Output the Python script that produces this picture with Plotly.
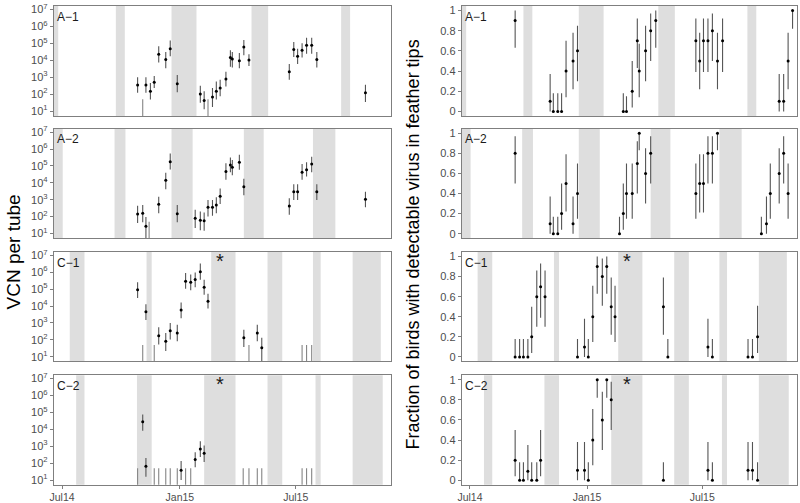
import plotly.graph_objects as go

X_RANGE = ["2014-06-18", "2015-11-27"]
X_TICKS = ["2014-07-01", "2015-01-01", "2015-07-01"]
X_TICK_LABELS = ["Jul14", "Jan15", "Jul15"]
Y_LOG_TICKS = [10, 100, 1e3, 1e4, 1e5, 1e6, 1e7]
Y_LOG_LABELS = ["10<sup>1</sup>", "10<sup>2</sup>", "10<sup>3</sup>", "10<sup>4</sup>", "10<sup>5</sup>",
                "10<sup>6</sup>", "10<sup>7</sup>"]
Y_FRAC_TICKS = [0, 0.2, 0.4, 0.6, 0.8, 1]
Y_FRAC_LABELS = ["0", "0.2", "0.4", "0.6", "0.8", "1"]
GROUPS = ["A−1", "A−2", "C−1", "C−2"]

# shaded periods per group
shade_A1 = [("2014-06-10", "2014-06-25"), ("2014-09-23", "2014-10-07"), ("2014-12-19", "2015-01-27"),
            ("2015-04-23", "2015-05-19"), ("2015-09-10", "2015-09-24")]
shade_A2 = [("2014-06-10", "2014-07-02"), ("2014-09-21", "2014-10-08"), ("2014-12-19", "2015-01-21"),
            ("2015-04-11", "2015-05-12"), ("2015-07-28", "2015-09-01")]
shade_C1 = [("2014-07-13", "2014-08-05"), ("2014-11-10", "2014-11-18"), ("2015-02-19", "2015-03-29"),
            ("2015-05-18", "2015-06-10"), ("2015-07-28", "2015-08-09"), ("2015-09-28", "2015-11-11")]
shade_C2 = [("2014-07-23", "2014-08-05"), ("2014-10-26", "2014-11-18"), ("2015-02-08", "2015-03-29"),
            ("2015-05-18", "2015-06-10"), ("2015-08-01", "2015-08-09"), ("2015-09-28", "2015-11-14")]

# ---- VCN per tube (log10 values) ----
vcn_A1_date = ["2014-10-27", "2014-11-09", "2014-11-16", "2014-11-22", "2014-11-29", "2014-12-10", "2014-12-17",
               "2014-12-28", "2015-02-02", "2015-02-08", "2015-02-21", "2015-02-27", "2015-03-05", "2015-03-14",
               "2015-03-21", "2015-03-24", "2015-04-04", "2015-04-11", "2015-04-19", "2015-06-21", "2015-06-28",
               "2015-07-04", "2015-07-11", "2015-07-18", "2015-07-26", "2015-08-03", "2015-10-18"]
vcn_A1_log = [2.54, 2.54, 2.17, 2.70, 4.36, 4.05, 4.68, 2.62, 2.02, 1.63, 1.83, 2.17, 2.37, 2.89, 4.16, 4.07,
              3.97, 4.78, 4.01, 3.33, 4.63, 4.24, 4.59, 4.88, 4.88, 4.05, 2.08]
vcn_A1_lo = [2.08, 2.08, 1.69, 2.37, 3.87, 3.53, 4.24, 2.12, 1.50, 1.11, 1.25, 1.69, 1.88, 2.46, 3.62, 3.58,
             3.53, 4.30, 3.66, 2.85, 4.20, 3.78, 4.16, 4.39, 4.39, 3.58, 1.54]
vcn_A1_hi = [3.00, 3.00, 2.66, 3.08, 4.82, 4.49, 5.17, 3.14, 2.50, 2.17, 2.37, 2.75, 2.85, 3.33, 4.59, 4.49,
             4.43, 5.20, 4.36, 3.78, 5.07, 4.68, 5.01, 5.32, 5.32, 4.49, 2.56]
vcn_A1_nd = ["2014-11-04", "2015-02-14"]

vcn_A2_date = ["2014-10-27", "2014-11-04", "2014-11-09", "2014-11-29", "2014-12-10", "2014-12-17", "2014-12-28",
               "2015-01-25", "2015-02-02", "2015-02-08", "2015-02-14", "2015-02-21", "2015-02-27", "2015-03-05",
               "2015-03-14", "2015-03-21", "2015-03-24", "2015-04-04", "2015-04-11", "2015-06-21", "2015-06-28",
               "2015-07-04", "2015-07-11", "2015-07-18", "2015-07-26", "2015-08-03", "2015-10-18"]
vcn_A2_log = [2.15, 2.20, 1.43, 2.73, 4.15, 5.25, 2.17, 1.91, 1.78, 1.76, 2.55, 2.55, 2.69, 3.21, 4.67, 5.06,
              4.92, 5.21, 3.76, 2.63, 3.47, 3.47, 4.63, 4.77, 5.12, 3.47, 3.02]
vcn_A2_lo = [1.62, 1.66, 0.70, 2.20, 3.62, 4.79, 1.66, 1.33, 1.19, 1.17, 2.01, 2.05, 2.20, 2.75, 4.18, 4.63,
             4.44, 4.77, 3.27, 2.11, 2.98, 2.98, 4.18, 4.38, 4.63, 2.98, 2.55]
vcn_A2_hi = [2.64, 2.69, 1.97, 3.17, 4.59, 5.74, 2.69, 2.40, 2.30, 2.24, 2.98, 2.98, 3.14, 3.66, 5.16, 5.50,
             5.35, 5.66, 4.24, 3.08, 3.91, 3.91, 5.12, 5.21, 5.54, 3.91, 3.47]
vcn_A2_nd = ["2014-11-14"]

vcn_C1_date = ["2014-10-27", "2014-11-09", "2014-11-29", "2014-12-10", "2014-12-17", "2014-12-28", "2015-01-03",
               "2015-01-10", "2015-01-18", "2015-01-25", "2015-02-02", "2015-02-08", "2015-02-14", "2015-04-11",
               "2015-05-02", "2015-05-09"]
vcn_C1_log = [4.97, 3.67, 2.25, 1.92, 2.54, 2.41, 3.76, 5.47, 5.41, 5.57, 6.03, 5.12, 4.29, 2.12, 2.41, 1.53]
vcn_C1_lo = [4.48, 3.18, 1.73, 1.34, 2.02, 1.92, 3.28, 5.02, 4.93, 5.12, 5.55, 4.67, 3.86, 1.57, 1.92, 0.70]
vcn_C1_hi = [5.41, 4.11, 2.74, 2.41, 2.99, 2.89, 4.21, 5.95, 5.86, 5.99, 6.52, 5.55, 4.73, 2.60, 2.89, 2.12]
vcn_C1_nd = ["2014-11-04", "2014-11-22", "2015-04-19", "2015-07-11", "2015-07-18", "2015-07-26"]

vcn_C2_date = ["2014-11-04", "2014-11-09", "2015-01-03", "2015-01-25", "2015-02-02", "2015-02-08"]
vcn_C2_log = [4.45, 1.82, 1.58, 2.22, 2.84, 2.59]
vcn_C2_lo = [3.92, 1.20, 1.00, 1.75, 2.36, 2.07]
vcn_C2_hi = [4.88, 2.30, 2.13, 2.65, 3.29, 3.04]
vcn_C2_nd = ["2014-10-27", "2014-11-22", "2014-11-29", "2014-12-10", "2014-12-17", "2014-12-28", "2015-01-10",
             "2015-01-18", "2015-04-10", "2015-04-19", "2015-05-02", "2015-05-09", "2015-07-11", "2015-07-18",
             "2015-07-26"]
ND_TOP = 50  # non-detect marker height (VCN)

# ---- Fraction of birds with detectable virus ----
frac_A1_date = ["2014-09-10", "2014-11-04", "2014-11-09", "2014-11-16", "2014-11-22", "2014-11-29", "2014-12-10",
                "2014-12-17", "2015-02-27", "2015-03-04", "2015-03-13", "2015-03-21", "2015-03-24", "2015-04-03",
                "2015-04-11", "2015-04-19", "2015-06-21", "2015-06-27", "2015-07-03", "2015-07-10", "2015-07-17",
                "2015-07-25", "2015-08-02", "2015-10-30", "2015-11-06", "2015-11-13", "2015-11-20"]
frac_A1 = [0.9, 0.1, 0, 0, 0, 0.4, 0.5, 0.6, 0, 0, 0.2, 0.7, 0.4, 0.6, 0.8, 0.9, 0.7, 0.5, 0.7, 0.7, 0.8,
           0.5, 0.7, 0.1, 0.1, 0.5, 1.0]
frac_A1_lo = [0.63, 0, 0, 0, 0, 0.14, 0.22, 0.30, 0, 0, 0.04, 0.43, 0.14, 0.30, 0.50, 0.63, 0.39, 0.22, 0.39,
              0.39, 0.50, 0.22, 0.39, 0, 0, 0.22, 0.82]
frac_A1_hi = [1.0, 0.37, 0.18, 0.18, 0.18, 0.70, 0.78, 0.85, 0.18, 0.15, 0.50, 0.92, 0.67, 0.85, 0.97, 1.0,
              0.92, 0.78, 0.92, 0.92, 0.97, 0.78, 0.92, 0.37, 0.37, 0.78, 1.0]

frac_A2_date = ["2014-09-10", "2014-11-04", "2014-11-09", "2014-11-16", "2014-11-22", "2014-11-29", "2014-12-10",
                "2014-12-17", "2015-02-21", "2015-02-27", "2015-03-04", "2015-03-13", "2015-03-21", "2015-03-24",
                "2015-04-03", "2015-04-11", "2015-06-21", "2015-06-27", "2015-07-03", "2015-07-10", "2015-07-17",
                "2015-07-25", "2015-10-02", "2015-10-10", "2015-10-16", "2015-10-30", "2015-11-06", "2015-11-13"]
frac_A2 = [0.8, 0.1, 0, 0, 0.2, 0.5, 0.1, 0.4, 0, 0.2, 0.4, 0.4, 0.7, 1.0, 0.6, 0.8, 0.4, 0.5, 0.5, 0.8, 0.8,
           1.0, 0, 0.1, 0.4, 0.6, 0.8, 0.4]
frac_A2_lo = [0.50, 0, 0, 0, 0.04, 0.22, 0, 0.15, 0, 0.04, 0.15, 0.15, 0.40, 0.83, 0.30, 0.50, 0.15, 0.21, 0.21,
              0.50, 0.50, 0.83, 0, 0, 0.15, 0.30, 0.50, 0.15]
frac_A2_hi = [0.97, 0.37, 0.17, 0.17, 0.50, 0.79, 0.37, 0.70, 0.17, 0.50, 0.70, 0.70, 0.92, 1.0, 0.85, 0.97,
              0.70, 0.79, 0.79, 0.97, 0.97, 1.0, 0.17, 0.37, 0.70, 0.85, 0.97, 0.70]

frac_C1_date = ["2014-09-10", "2014-09-17", "2014-09-23", "2014-09-30", "2014-10-06", "2014-10-14", "2014-10-20",
                "2014-10-27", "2014-12-17", "2014-12-28", "2015-01-03", "2015-01-10", "2015-01-17", "2015-01-25",
                "2015-02-01", "2015-02-08", "2015-02-14", "2015-05-01", "2015-05-08", "2015-07-10", "2015-07-17",
                "2015-09-11", "2015-09-18", "2015-09-26"]
frac_C1 = [0, 0, 0, 0, 0.2, 0.6, 0.7, 0.6, 0, 0.1, 0, 0.4, 0.9, 0.8, 0.9, 0.5, 0.4, 0.5, 0, 0.1, 0, 0, 0, 0.2]
frac_C1_lo = [0, 0, 0, 0, 0.04, 0.30, 0.39, 0.30, 0, 0, 0, 0.15, 0.63, 0.51, 0.63, 0.22, 0.15, 0.22, 0, 0, 0,
              0, 0, 0.04]
frac_C1_hi = [0.18, 0.18, 0.18, 0.18, 0.50, 0.86, 0.93, 0.86, 0.18, 0.38, 0.18, 0.71, 1.0, 0.98, 1.0, 0.79,
              0.71, 0.79, 0.18, 0.38, 0.18, 0.18, 0.18, 0.51]

frac_C2_date = ["2014-09-10", "2014-09-17", "2014-09-23", "2014-09-30", "2014-10-06", "2014-10-14", "2014-10-20",
                "2014-12-17", "2014-12-28", "2015-01-03", "2015-01-10", "2015-01-17", "2015-01-25", "2015-02-01",
                "2015-02-08", "2015-05-01", "2015-07-10", "2015-07-17", "2015-09-11", "2015-09-18", "2015-09-26"]
frac_C2 = [0.2, 0, 0, 0.09, 0, 0, 0.2, 0.1, 0.1, 0, 0.4, 1.0, 0.6, 1.0, 0.8, 0, 0.1, 0, 0.1, 0.1, 0]
frac_C2_lo = [0.04, 0, 0, 0, 0, 0, 0.04, 0, 0, 0, 0.15, 0.82, 0.30, 0.82, 0.50, 0, 0, 0, 0, 0, 0]
frac_C2_hi = [0.50, 0.18, 0.18, 0.35, 0.18, 0.18, 0.50, 0.38, 0.38, 0.18, 0.71, 1.0, 0.88, 1.0, 0.98, 0.18,
              0.38, 0.18, 0.38, 0.38, 0.18]

STAR_DATE = "2015-03-05"

vcn_sets = [
    (vcn_A1_date, vcn_A1_log, vcn_A1_lo, vcn_A1_hi, vcn_A1_nd),
    (vcn_A2_date, vcn_A2_log, vcn_A2_lo, vcn_A2_hi, vcn_A2_nd),
    (vcn_C1_date, vcn_C1_log, vcn_C1_lo, vcn_C1_hi, vcn_C1_nd),
    (vcn_C2_date, vcn_C2_log, vcn_C2_lo, vcn_C2_hi, vcn_C2_nd),
]
frac_sets = [
    (frac_A1_date, frac_A1, frac_A1_lo, frac_A1_hi),
    (frac_A2_date, frac_A2, frac_A2_lo, frac_A2_hi),
    (frac_C1_date, frac_C1, frac_C1_lo, frac_C1_hi),
    (frac_C2_date, frac_C2, frac_C2_lo, frac_C2_hi),
]
shades = [shade_A1, shade_A2, shade_C1, shade_C2]
star_groups = [False, False, True, True]

W, H = 800, 503
col_px = [(50, 389), (460, 797)]
row_px = [(2, 114), (127, 238.5), (252.5, 364), (378, 489.5)]

BAR_COL = "#555555"
ND_COL = "#858585"
BORDER = "#7f7f7f"
FONT = "Liberation Sans, Arial, sans-serif"
TICKFONT = dict(family=FONT, size=11, color="#4d4d4d")

fig = go.Figure()
layout = dict(width=W, height=H, margin=dict(l=0, r=0, t=0, b=0),
              paper_bgcolor="white", plot_bgcolor="white", showlegend=False)
shapes = []
annotations = []

for r in range(4):
    for c in range(2):
        idx = r * 2 + c + 1
        xa = "xaxis" if idx == 1 else f"xaxis{idx}"
        ya = "yaxis" if idx == 1 else f"yaxis{idx}"
        xr = "x" if idx == 1 else f"x{idx}"
        yr = "y" if idx == 1 else f"y{idx}"
        x0, x1 = col_px[c]
        y0, y1 = row_px[r]
        layout[xa] = dict(domain=[x0 / W, x1 / W], range=X_RANGE, type="date", anchor=yr,
                          showgrid=False, zeroline=False, showline=True, mirror=True,
                          linecolor=BORDER, linewidth=1,
                          tickmode="array", tickvals=X_TICKS, ticktext=X_TICK_LABELS,
                          ticks="outside" if r == 3 else "", ticklen=3, tickcolor=BORDER,
                          showticklabels=(r == 3), tickfont=dict(family=FONT, size=10.5, color="#4d4d4d"))
        ydom = [1 - y1 / H, 1 - y0 / H]
        if c == 0:
            layout[ya] = dict(domain=ydom, type="log", range=[0.72, 7.2], anchor=xr,
                              showgrid=False, zeroline=False, showline=True, mirror=True,
                              linecolor=BORDER, linewidth=1, tickmode="array",
                              tickvals=Y_LOG_TICKS, ticktext=Y_LOG_LABELS,
                              ticks="outside", ticklen=3, tickcolor=BORDER, tickfont=TICKFONT)
        else:
            layout[ya] = dict(domain=ydom, range=[-0.045, 1.045], anchor=xr,
                              showgrid=False, zeroline=False, showline=True, mirror=True,
                              linecolor=BORDER, linewidth=1, tickmode="array",
                              tickvals=Y_FRAC_TICKS, ticktext=Y_FRAC_LABELS,
                              ticks="outside", ticklen=3, tickcolor=BORDER, tickfont=TICKFONT)

        # shading
        for s0, s1 in shades[r]:
            shapes.append(dict(type="rect", xref=xr, yref=f"{yr} domain", x0=s0, x1=s1, y0=0, y1=1,
                               fillcolor="#dedede", line=dict(width=0), layer="below"))
        # group label
        annotations.append(dict(text=GROUPS[r], xref=f"{xr} domain", yref=f"{yr} domain", x=0.005, y=0.985,
                                xanchor="left", yanchor="top", showarrow=False,
                                font=dict(family=FONT, size=12, color="#1a1a1a")))
        if star_groups[r]:
            annotations.append(dict(text="*", xref=xr, yref=f"{yr} domain", x=STAR_DATE, y=1.04,
                                    xanchor="center", yanchor="top", showarrow=False,
                                    font=dict(family=FONT, size=20, color="#1a1a1a")))

        if c == 0:
            d, lg, lo, hi, nd = vcn_sets[r]
            vals = [10 ** v for v in lg]
            up = [10 ** h - 10 ** v for h, v in zip(hi, lg)]
            dn = [10 ** v - 10 ** l for l, v in zip(lo, lg)]
            if nd:
                nx, ny = [], []
                for dd in nd:
                    nx += [dd, dd, None]
                    ny += [ND_TOP, 1, None]
                fig.add_trace(go.Scatter(x=nx, y=ny, mode="lines", xaxis=xr, yaxis=yr,
                                         line=dict(color=ND_COL, width=1.1), hoverinfo="skip"))
            fig.add_trace(go.Scatter(x=d, y=vals, mode="markers", xaxis=xr, yaxis=yr,
                                     marker=dict(color="black", size=3),
                                     error_y=dict(type="data", symmetric=False, array=up, arrayminus=dn,
                                                  color=BAR_COL, thickness=1.1, width=0)))
        else:
            d, v, lo, hi = frac_sets[r]
            up = [h - x for h, x in zip(hi, v)]
            dn = [x - l for l, x in zip(lo, v)]
            fig.add_trace(go.Scatter(x=d, y=v, mode="markers", xaxis=xr, yaxis=yr, cliponaxis=False,
                                     marker=dict(color="black", size=3),
                                     error_y=dict(type="data", symmetric=False, array=up, arrayminus=dn,
                                                  color=BAR_COL, thickness=1.1, width=0)))

annotations.append(dict(text="VCN per tube", xref="paper", yref="paper", x=10 / W, y=1 - 252 / H,
                        textangle=-90, showarrow=False, xanchor="center", yanchor="middle",
                        font=dict(family=FONT, size=19, color="black")))
annotations.append(dict(text="Fraction of birds with detectable virus in feather tips", xref="paper", yref="paper",
                        x=411 / W, y=1 - 245 / H, textangle=-90, showarrow=False, xanchor="center",
                        yanchor="middle", font=dict(family=FONT, size=18, color="black")))

layout["shapes"] = shapes
layout["annotations"] = annotations
fig.update_layout(**layout)
fig.write_html("out.html", config={"displayModeBar": False},
               post_script="document.body.style.margin='0px';document.body.style.overflow='hidden';")
